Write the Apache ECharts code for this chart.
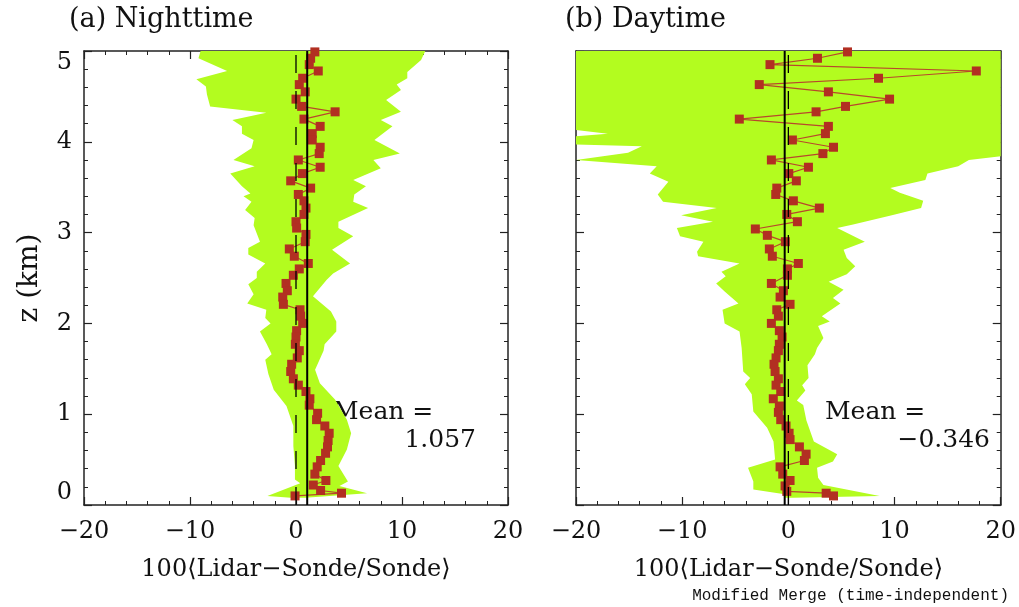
<!DOCTYPE html>
<html>
<head>
<meta charset="utf-8">
<script src="https://cdn.jsdelivr.net/npm/echarts@6.0.0/dist/echarts.min.js"></script>
<style>
html, body { margin: 0; padding: 0; background: #fff; }
#chart { width: 1019px; height: 607px; }
</style>
</head>
<body>
<div id="chart"></div>
<script>
// panel text + means
var panelTitles = ['(a) Nighttime', '(b) Daytime'];
var meanValues = [1.057, -0.346];
var xAxisTitle = '100\u27E8Lidar\u2212Sonde/Sonde\u27E9';
var yAxisTitle = 'z (km)';

// red squares, [percent difference, z km]
var nightPoints = [
  [1.78,4.99],[1.38,4.92],[1.25,4.85],[2.1,4.78],[0.63,4.70],[0.31,4.63],[0.87,4.55],[0,4.47],
  [0.53,4.39],[3.69,4.33],[0.75,4.25],[2.28,4.17],[1.53,4.09],[1.53,4.02],[2.28,3.94],[2.19,3.87],
  [0.22,3.80],[2.28,3.72],[0.6,3.65],[-0.5,3.57],[1.38,3.49],[0.22,3.42],[0.75,3.35],[0.94,3.27],
  [0.75,3.20],[0,3.12],[0.06,3.05],[0.94,2.98],[0.87,2.90],[-0.63,2.82],[-0.16,2.74],[1.16,2.66],
  [0.31,2.60],[-0.25,2.53],[-0.94,2.44],[-0.82,2.36],[-1.25,2.29],[-1.19,2.21],[0.38,2.15],[0.44,2.08],
  [0.63,2.00],[0.06,1.92],[0,1.85],[-0.06,1.77],[0.31,1.70],[0.12,1.62],[-0.41,1.55],[-0.5,1.47],
  [-0.25,1.39],[0.22,1.32],[0.94,1.25],[1.31,1.17],[1.25,1.10],[2.04,1.01],[1.94,0.94],[2.72,0.87],
  [3.13,0.79],[3.03,0.71],[2.97,0.64],[2.79,0.57],[2.32,0.49],[2.0,0.42],[1.78,0.34],[2.82,0.27],
  [1.63,0.22],[2.32,0.16],[4.29,0.13],[-0.09,0.10]
];
var dayPoints = [
  [5.57,4.99],[2.74,4.92],[-1.73,4.85],[17.7,4.78],[8.49,4.70],[-2.74,4.63],[3.77,4.55],[9.53,4.47],
  [5.38,4.39],[2.61,4.33],[-4.62,4.25],[3.77,4.17],[3.49,4.09],[0.38,4.02],[4.25,3.94],[3.25,3.87],
  [-1.6,3.80],[1.89,3.72],[0.04,3.65],[0.75,3.57],[-1.09,3.49],[-1.19,3.42],[0.47,3.35],[2.92,3.27],
  [-0.15,3.20],[0.85,3.12],[-3.11,3.04],[-1.98,2.97],[-0.28,2.90],[-1.79,2.82],[-1.51,2.74],[0.94,2.66],
  [-0.09,2.60],[-0.09,2.53],[-1.6,2.44],[-0.47,2.36],[-0.78,2.29],[0.16,2.21],[-1.09,2.15],[-0.94,2.08],
  [-1.6,2.00],[-0.85,1.92],[-0.59,1.85],[-0.85,1.77],[-0.94,1.70],[-1.16,1.62],[-1.35,1.55],[-1.25,1.47],
  [-0.94,1.39],[-1.16,1.32],[-0.72,1.25],[-1.42,1.17],[-0.85,1.09],[-0.94,1.02],[-0.72,0.94],[-0.22,0.87],
  [0.07,0.79],[0.16,0.72],[1.04,0.64],[1.67,0.56],[1.51,0.49],[-0.78,0.42],[-0.53,0.34],[0.16,0.27],
  [-0.31,0.21],[-0.15,0.15],[3.56,0.13],[4.25,0.10]
];

// green spread band, edges listed top -> bottom
var nightBandLeft = [
  [-9.0,5.0],[-9.2,4.92],[-6.5,4.78],[-9.4,4.69],[-8.5,4.61],[-8.4,4.52],[-8.1,4.39],[-2.8,4.32],
  [-6.0,4.24],[-5.1,4.17],[-5.1,4.09],[-4.0,4.02],[-4.2,3.93],[-5.9,3.80],[-3.9,3.73],[-6.2,3.65],
  [-5.1,3.51],[-4.3,3.43],[-4.95,3.40],[-4.2,3.34],[-4.8,3.25],[-3.9,3.16],[-4.0,3.08],[-3.4,2.90],
  [-4.5,2.83],[-4.5,2.76],[-2.9,2.66],[-3.7,2.57],[-3.7,2.50],[-4.5,2.43],[-4.0,2.32],[-4.6,2.22],
  [-2.8,2.15],[-2.9,2.06],[-2.4,2.00],[-3.4,1.91],[-2.75,1.77],[-2.3,1.66],[-2.9,1.60],[-2.6,1.44],
  [-2.1,1.27],[-0.9,1.09],[-0.25,0.87],[-0.25,0.65],[-0.1,0.43],[-0.1,0.28],[0.4,0.24],[-2.7,0.10],
  [-0.5,0.08]
];
var nightBandRight = [
  [12.2,5.0],[11.8,4.90],[10.5,4.77],[10.5,4.70],[9.5,4.63],[9.9,4.57],[8.5,4.46],[9.9,4.33],
  [8.0,4.24],[9.1,4.17],[7.4,4.02],[9.8,3.87],[7.3,3.80],[8.0,3.71],[5.4,3.58],[6.6,3.51],
  [5.5,3.42],[5.4,3.34],[6.8,3.27],[4.0,3.12],[4.0,3.05],[5.4,2.96],[3.4,2.81],[5.1,2.66],
  [3.5,2.55],[2.9,2.48],[1.6,2.30],[3.3,2.13],[3.8,2.02],[3.8,1.91],[2.7,1.77],[2.6,1.70],
  [1.8,1.49],[2.25,1.34],[3.7,1.16],[4.8,0.94],[5.2,0.79],[4.8,0.61],[4.0,0.43],[4.9,0.26],
  [4.1,0.21],[6.7,0.13],[0.9,0.08]
];
var dayBandLeft = [
  [-20,5.0],[-20,4.13],[-17,4.09],[-20,4.06],[-20,3.97],[-13.8,3.95],[-15.1,3.88],[-20,3.80],
  [-12.4,3.73],[-13.05,3.65],[-11.3,3.56],[-12.3,3.42],[-11.8,3.34],[-6.75,3.27],[-10.1,3.19],[-7.1,3.12],
  [-10.5,3.05],[-10.2,2.96],[-8.0,2.90],[-8.6,2.79],[-8.5,2.74],[-4.6,2.66],[-6.3,2.57],[-5.9,2.52],
  [-6.8,2.44],[-6.0,2.35],[-4.7,2.22],[-6.2,2.15],[-6.0,2.00],[-4.6,1.91],[-4.4,1.73],[-4.25,1.47],
  [-3.6,1.40],[-4.1,1.33],[-3.45,1.22],[-3.3,1.03],[-2.0,0.85],[-1.4,0.70],[-1.25,0.50],[-3.8,0.41],
  [-3.3,0.26],[-3.3,0.17],[-0.5,0.12],[-0.3,0.08]
];
var dayBandRight = [
  [20,5.0],[20,3.84],[17.0,3.80],[16.0,3.73],[13.1,3.65],[12.9,3.58],[9.6,3.49],[10.5,3.44],
  [12.7,3.35],[12.5,3.27],[9.75,3.19],[6.1,3.09],[4.6,3.05],[7.2,2.90],[5.2,2.81],[5.5,2.72],
  [6.3,2.63],[5.5,2.54],[3.8,2.46],[5.2,2.37],[4.2,2.28],[4.9,2.22],[3.15,2.08],[3.9,2.02],
  [2.8,1.97],[3.3,1.84],[2.7,1.73],[2.5,1.66],[1.8,1.54],[1.9,1.40],[1.3,1.32],[1.6,1.26],
  [0.8,1.15],[1.4,1.10],[1.7,0.93],[2.4,0.70],[4.6,0.56],[4.2,0.48],[2.7,0.41],[2.8,0.30],
  [3.3,0.22],[8.6,0.10],[0.5,0.08]
];

var FONT = 'DejaVu Serif';
var GREEN = '#b3fc1f';
var RED = '#b22f22';
var AXIS = '#222';

function minus(v) { return String(v).replace('-', '\u2212'); }

// left edge down, right edge back up
function bandPolygon(left, right) {
  return left.concat(right.slice().reverse());
}

function xAxisFor(grid, pos, withLabels) {
  return {
    type: 'value', gridIndex: grid, position: pos, min: -20, max: 20, interval: 10,
    axisLine: { show: true, onZero: false, lineStyle: { color: AXIS, width: 1.5 } },
    axisTick: { show: true, inside: true, length: 8, lineStyle: { color: AXIS, width: 1.2 } },
    minorTick: { show: true, splitNumber: 5, length: 4, lineStyle: { color: AXIS, width: 1 } },
    splitLine: { show: false },
    axisLabel: { show: withLabels, formatter: minus, fontFamily: FONT, fontSize: 24, color: '#111', margin: 15 },
    name: withLabels ? xAxisTitle : '',
    nameLocation: 'middle', nameGap: 53,
    nameTextStyle: { fontFamily: FONT, fontSize: 24, color: '#111' }
  };
}

function yAxisFor(grid, pos, withLabels) {
  return {
    type: 'value', gridIndex: grid, position: pos, min: 0, max: 5, interval: 1,
    axisLine: { show: true, onZero: false, lineStyle: { color: AXIS, width: 1.5 } },
    axisTick: { show: true, inside: true, length: 8, lineStyle: { color: AXIS, width: 1.2 } },
    minorTick: { show: true, splitNumber: 5, length: 4, lineStyle: { color: AXIS, width: 1 } },
    splitLine: { show: false },
    axisLabel: {
      show: withLabels, fontFamily: FONT, fontSize: 24, color: '#111', margin: 12,
      verticalAlignMinLabel: 'bottom', verticalAlignMaxLabel: 'top'
    },
    name: withLabels ? yAxisTitle : '',
    nameLocation: 'middle', nameGap: 40, nameRotate: 90,
    nameTextStyle: { fontFamily: FONT, fontSize: 28, color: '#111' }
  };
}

function bandSeries(axisIdx, poly) {
  return {
    type: 'custom', xAxisIndex: axisIdx, yAxisIndex: axisIdx, z: 1,
    data: poly, encode: { x: 0, y: 1 },
    renderItem: function (params, api) {
      if (params.dataIndex !== 0) return null;
      var pts = poly.map(function (p) { return api.coord(p); });
      return { type: 'polygon', shape: { points: pts }, style: { fill: GREEN } };
    }
  };
}

function pointSeries(axisIdx, pts) {
  return {
    type: 'line', xAxisIndex: axisIdx, yAxisIndex: axisIdx, z: 3,
    data: pts, symbol: 'rect', symbolSize: 9, showAllSymbol: true,
    itemStyle: { color: RED },
    lineStyle: { color: '#b8472c', width: 1.2 }
  };
}

function vLine(axisIdx, xVal, dashed) {
  return {
    type: 'line', xAxisIndex: axisIdx, yAxisIndex: axisIdx, z: 4,
    data: [[xVal, 0], [xVal, 5]], showSymbol: false,
    lineStyle: dashed ? { color: '#000', width: 1.3, type: [18, 18] } : { color: '#000', width: 2 }
  };
}

var myChart = echarts.init(document.getElementById('chart'));

var option = {
  animation: false,
  backgroundColor: '#fff',
  grid: [
    { left: 84, top: 51, width: 424, height: 454 },
    { left: 576, top: 51, width: 425, height: 454 }
  ],
  xAxis: [
    xAxisFor(0, 'bottom', true), xAxisFor(0, 'top', false),
    xAxisFor(1, 'bottom', true), xAxisFor(1, 'top', false)
  ],
  yAxis: [
    yAxisFor(0, 'left', true), yAxisFor(0, 'right', false),
    yAxisFor(1, 'left', false), yAxisFor(1, 'right', false)
  ],
  series: [
    bandSeries(0, bandPolygon(nightBandLeft, nightBandRight)),
    pointSeries(0, nightPoints),
    vLine(0, 0, true),
    vLine(0, meanValues[0], false),
    bandSeries(2, bandPolygon(dayBandLeft, dayBandRight)),
    pointSeries(2, dayPoints),
    vLine(2, 0, true),
    vLine(2, meanValues[1], false)
  ],
  graphic: [
    { type: 'text', left: 69, top: 6, style: { text: panelTitles[0], font: '27px "DejaVu Serif"', fill: '#111' } },
    { type: 'text', left: 565, top: 6, style: { text: panelTitles[1], font: '27px "DejaVu Serif"', fill: '#111' } },
    { type: 'text', left: 333, top: 400, style: { text: 'Mean =', font: '25px "DejaVu Serif"', fill: '#111' } },
    { type: 'text', right: 1019 - 476, top: 428, style: { text: meanValues[0].toFixed(3), font: '25px "DejaVu Serif"', fill: '#111' } },
    { type: 'text', left: 825, top: 400, style: { text: 'Mean =', font: '25px "DejaVu Serif"', fill: '#111' } },
    { type: 'text', right: 1019 - 990, top: 428, style: { text: minus(meanValues[1].toFixed(3)), font: '25px "DejaVu Serif"', fill: '#111' } },
    { type: 'text', right: 10, top: 588, style: { text: 'Modified Merge (time-independent)', font: '16px "Liberation Mono"', fill: '#111' } }
  ]
};

myChart.setOption(option);
</script>
</body>
</html>
